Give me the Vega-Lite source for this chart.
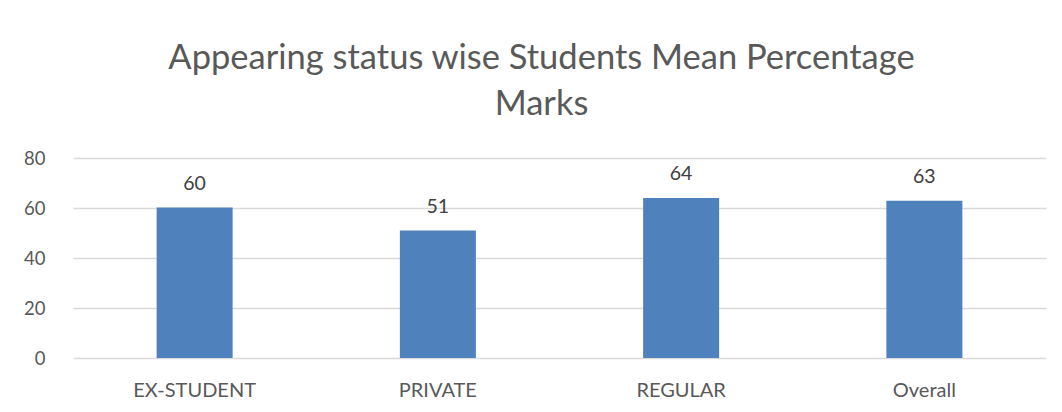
{
  "$schema": "https://vega.github.io/schema/vega-lite/v6.json",
  "autosize": "none",
  "width": 973,
  "height": 200,
  "padding": {"left": 73, "top": 158, "right": 16, "bottom": 54},
  "background": "white",
  "title": {
    "text": ["Appearing status wise Students Mean Percentage", "Marks"],
    "font": "Lato",
    "fontSize": 34.5,
    "fontWeight": "normal",
    "color": "#595959",
    "anchor": "middle",
    "dx": -18,
    "lineHeight": 46,
    "offset": 27
  },
  "data": {
    "values": [
      {"status": "EX-STUDENT", "mean": 60.2},
      {"status": "PRIVATE", "mean": 51.0},
      {"status": "REGULAR", "mean": 64.0},
      {"status": "Overall", "mean": 62.9}
    ]
  },
  "encoding": {
    "x": {
      "field": "status",
      "type": "nominal",
      "sort": null,
      "scale": {"paddingInner": 0, "paddingOuter": 0},
      "axis": {
        "title": null,
        "labelAngle": 0,
        "labelFont": "Lato",
        "labelFontSize": 20,
        "labelColor": "#595959",
        "labelPadding": 22,
        "ticks": false,
        "domain": false,
        "grid": false
      }
    },
    "y": {
      "field": "mean",
      "type": "quantitative",
      "scale": {"domain": [0, 80]},
      "axis": {
        "title": null,
        "values": [0, 20, 40, 60, 80],
        "labelFont": "Lato",
        "labelFontSize": 18.5,
        "labelColor": "#595959",
        "labelPadding": 28,
        "ticks": false,
        "domain": false,
        "gridColor": "#d9d9d9",
        "gridWidth": 1.5
      }
    }
  },
  "layer": [
    {
      "mark": {"type": "bar", "color": "#4f81bd", "width": 76}
    },
    {
      "mark": {
        "type": "text",
        "font": "Lato",
        "fontSize": 19.5,
        "color": "#404040",
        "baseline": "alphabetic",
        "dy": -18
      },
      "encoding": {
        "text": {"field": "mean", "type": "quantitative", "format": ".0f"}
      }
    }
  ],
  "config": {"view": {"stroke": null}}
}
